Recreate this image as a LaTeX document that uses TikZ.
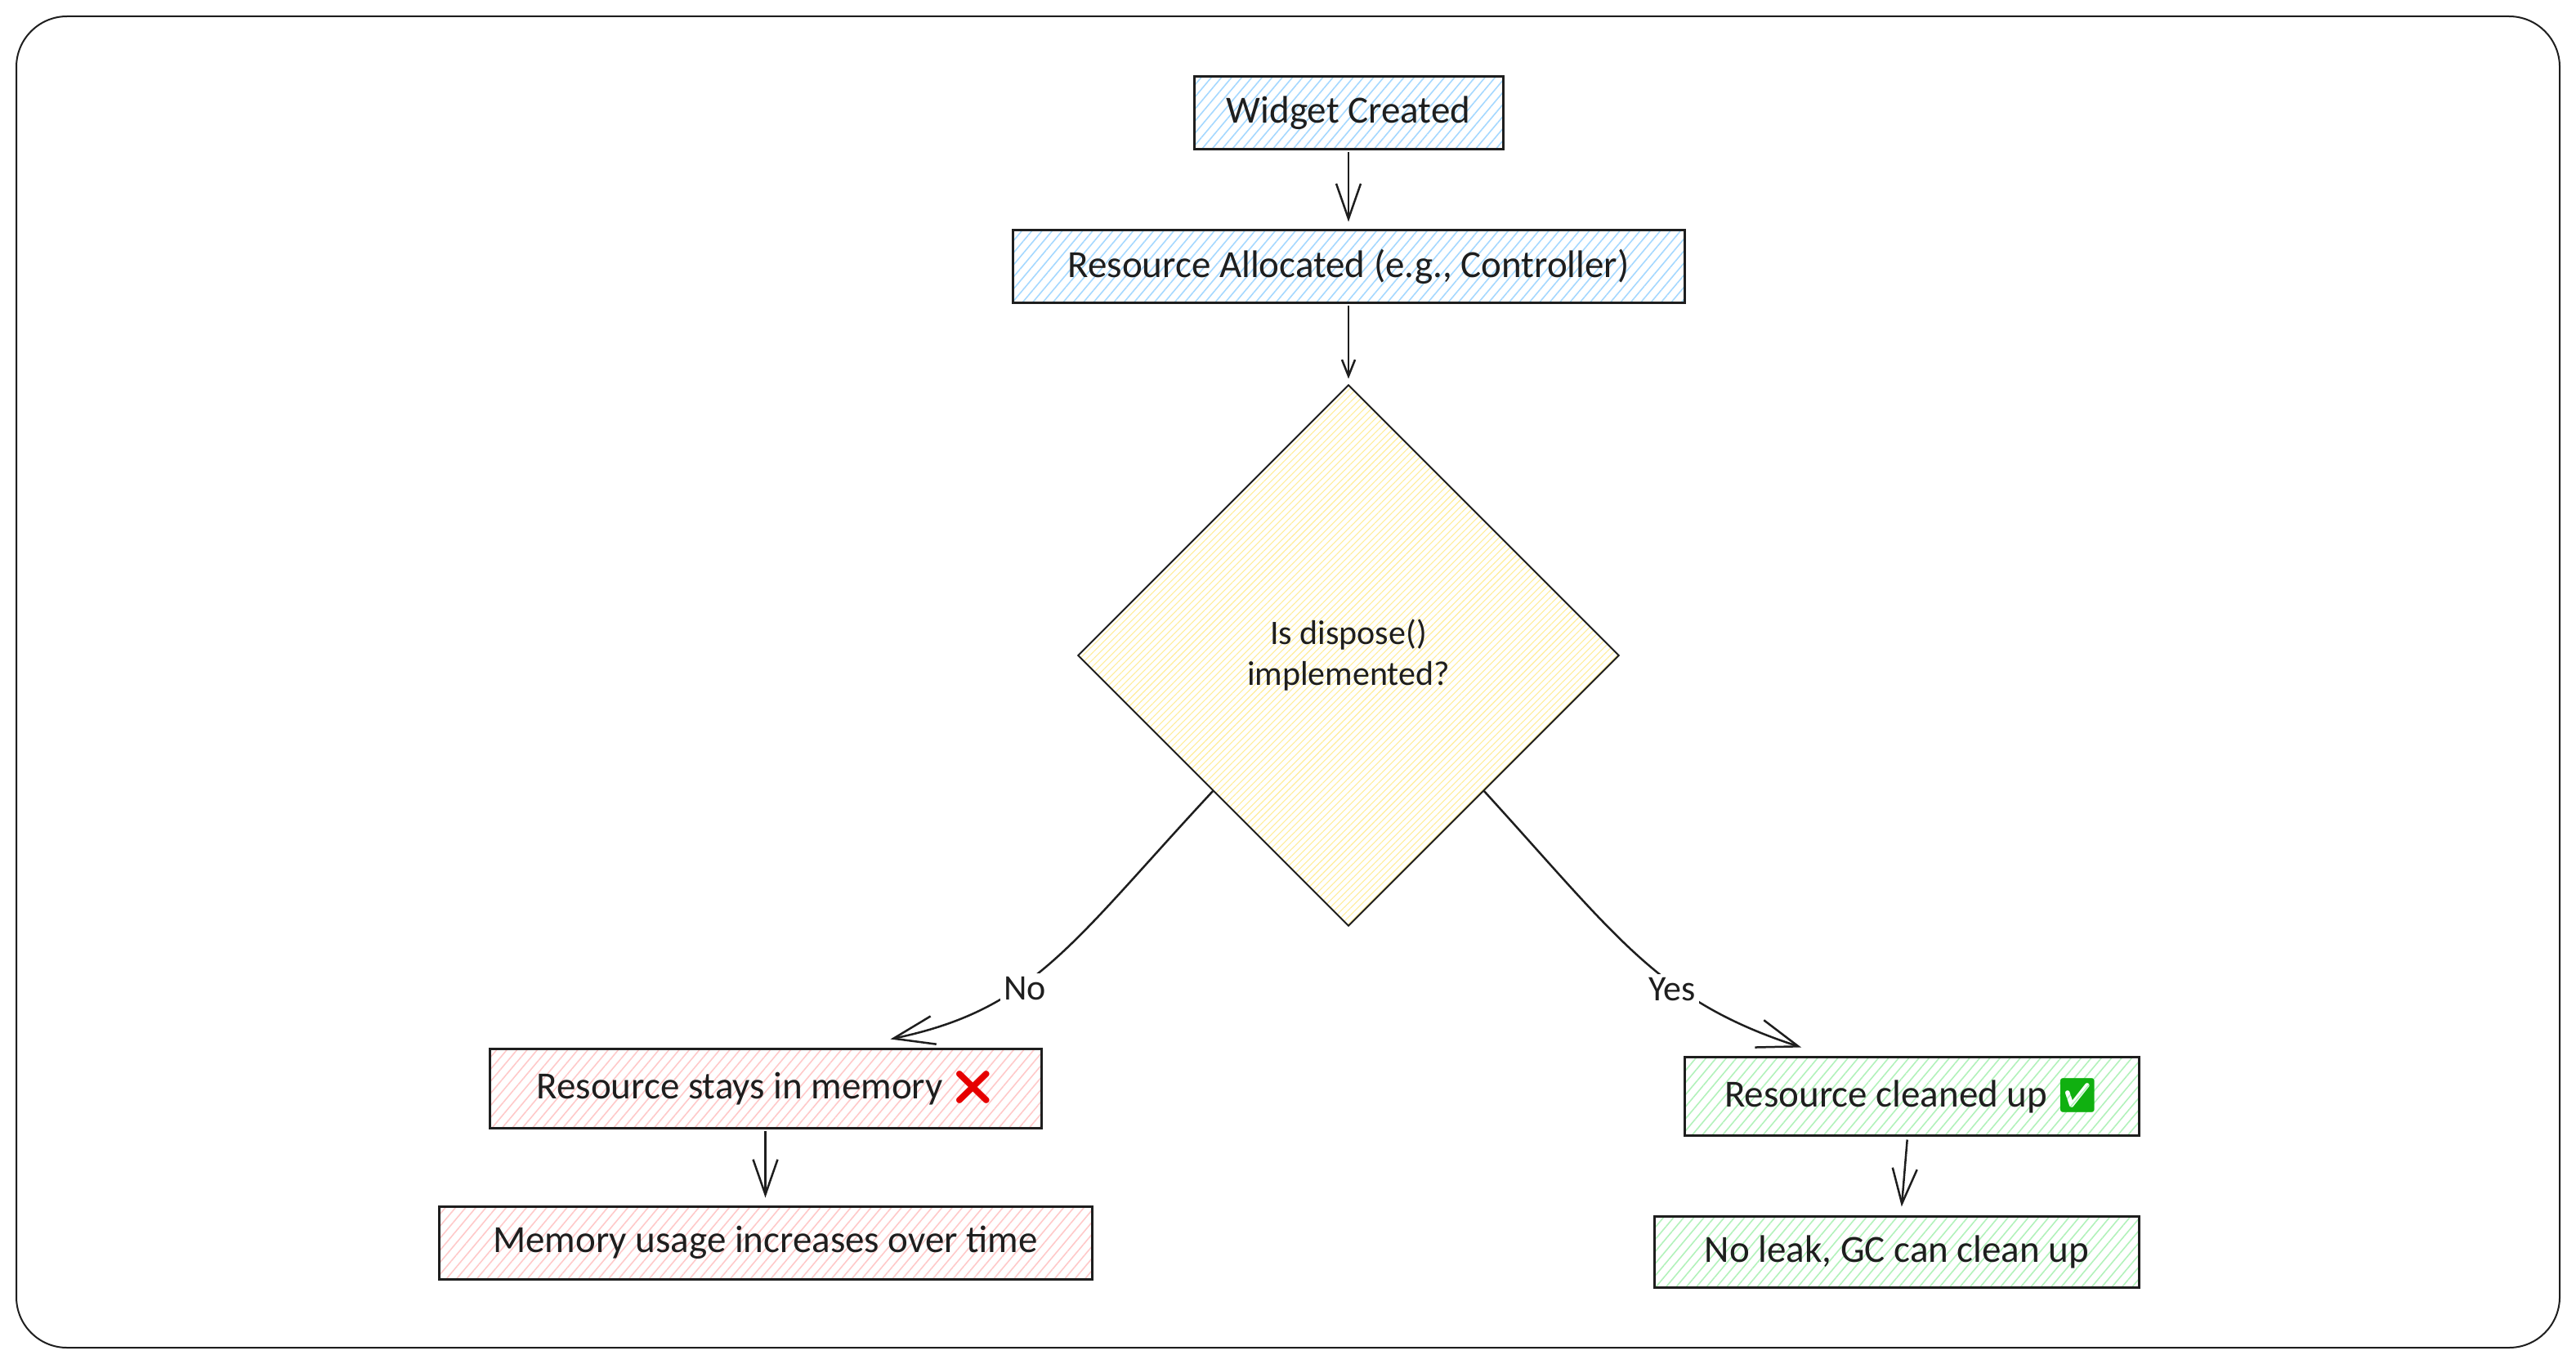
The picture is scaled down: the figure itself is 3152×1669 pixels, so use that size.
\documentclass[tikz,border=0pt]{standalone}
\usepackage{fontspec}
\setmainfont{Carlito}
\newfontfamily\emojifont{Noto Emoji}
\usepackage{tikz}
\usetikzlibrary{shapes.geometric, arrows.meta, patterns.meta}
\definecolor{inchiostro}{HTML}{1E1E1E}
\definecolor{tintaBlue}{HTML}{A5D8FF}
\definecolor{tintaYellow}{HTML}{FFEC99}
\definecolor{tintaRed}{HTML}{FFC9C9}
\definecolor{tintaGreen}{HTML}{B2F2BB}
\newcommand{\croce}{{\fontsize{41}{50}\emojifont\textcolor[HTML]{E60000}{❌}}}
\newcommand{\spunta}{{\fontsize{41}{50}\emojifont\textcolor[HTML]{10B010}{✅}}}
\tikzset{
    boxnode/.style n args = {3}{draw = inchiostro, line width = 3pt, inner sep = 0pt, text = inchiostro, font = \fontsize{47}{50}\selectfont, minimum width = #1, minimum height = #2, pattern = {Lines[angle = 50, distance = 9.5pt, line width = 1.6pt]}, pattern color = #3},
    choicenode/.style = {diamond, aspect = 1, draw = inchiostro, line width = 2pt, inner sep = 0pt, align = center, text = inchiostro, font = \fontsize{42}{50}\selectfont, minimum width = 662pt, minimum height = 662pt, pattern = {Lines[angle = 45, distance = 6pt, line width = 1.1pt]}, pattern color = tintaYellow},
    arrowlabel/.style = {fill = white, inner sep = 4pt, yshift = -7pt, text = inchiostro, font = \fontsize{44}{46}\selectfont},
    freccia/.style 2 args = {draw = inchiostro, line width = 2.5pt, -{Straight Barb[length = #1, width = #2]}}
}

\begin{document}
\begin{tikzpicture}[x = 1pt, y = -1pt]
    \useasboundingbox (0,0) rectangle (3152,1669);
    % Cornice
    \draw[inchiostro, line width = 2pt, rounded corners = 62pt] (20,20) rectangle (3132,1649);
    % Blocchi
    \node[boxnode = {378pt}{89pt}{tintaBlue}] (widget) at (1650,138.5){Widget Created};
    \node[boxnode = {822pt}{88pt}{tintaBlue}] (allocated) at (1650,326){Resource Allocated (e.g., Controller)};
    \node[choicenode] (dispose) at (1650,802){Is dispose()\\implemented?};
    \node[boxnode = {675pt}{97pt}{tintaRed}] (stays) at (936.5,1331.5){Resource stays in memory \croce};
    \node[boxnode = {799pt}{89pt}{tintaRed}] (usage) at (936.5,1520.5){Memory usage increases over time};
    \node[boxnode = {556pt}{96pt}{tintaGreen}] (cleaned) at (2339,1341){Resource cleaned up \spunta};
    \node[boxnode = {593pt}{87pt}{tintaGreen}] (noleak) at (2321,1531.5){No leak, GC can clean up};
    % Frecce
    \draw[freccia = {43pt}{30pt}, shorten <= 2pt, shorten >= 9pt] (widget.south) -- (allocated.north);
    \draw[freccia = {20pt}{16pt}, shorten <= 2pt, shorten >= 7pt] (allocated.south) -- (dispose.north);
    \draw[freccia = {50pt}{35pt}] (dispose.south west) .. controls (1310,1155) and (1265,1235) .. ([xshift = 153pt, yshift = 10pt]stays.north) node[arrowlabel, pos = 0.6] (nolabel){No};
    \draw[freccia = {50pt}{35pt}] (dispose.south east) .. controls (1980,1148) and (2030,1225) .. ([xshift = -135pt, yshift = 10pt]cleaned.north) node[arrowlabel, pos = 0.62] (yeslabel){Yes};
    \draw[freccia = {43pt}{30pt}, shorten <= 2pt, shorten >= 9pt] (stays.south) -- (usage.north);
    \draw[freccia = {43pt}{30pt}, shorten <= 4pt, shorten >= 10pt] ([xshift = -5pt]cleaned.south) -- ([xshift = 5pt]noleak.north);
\end{tikzpicture}
\end{document}
